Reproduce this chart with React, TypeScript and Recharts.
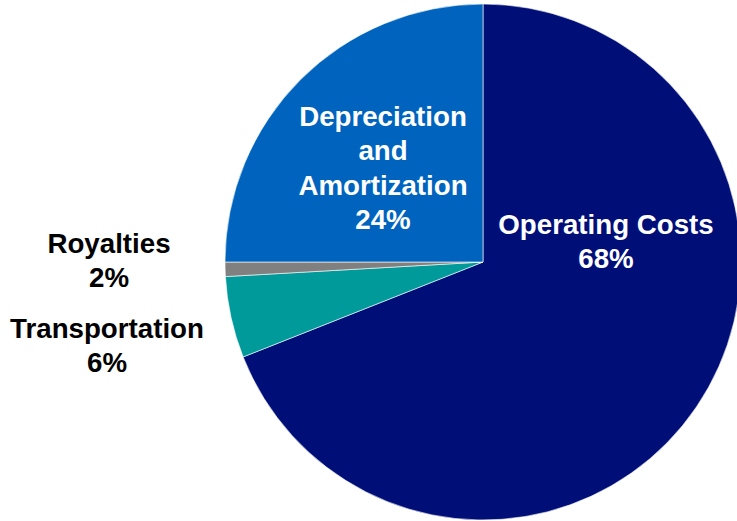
import React from "react";
import { PieChart, Pie, Cell } from "recharts";

// Categories in clockwise order starting at 12 o'clock
const categories = ["Operating Costs", "Transportation", "Royalties", "Depreciation and Amortization"];
// Slice sizes (share of the circle, %)
const sliceValues = [69, 5.1, 0.9, 25];
// Percent labels printed on the chart
const percentLabels = ["68%", "6%", "2%", "24%"];
// Label text lines
const labelLines = [
  ["Operating Costs"],
  ["Transportation"],
  ["Royalties"],
  ["Depreciation", "and", "Amortization"],
];

const colors = ["#000F78", "#009A9A", "#808080", "#0064BE"];
const labelColors = ["#ffffff", "#000000", "#000000", "#ffffff"];

// label anchor offsets relative to pie centre (layout only)
const labelAnchors = [
  { dx: 123, dy: -38 },
  { dx: -376, dy: 66 },
  { dx: -374, dy: -19 },
  { dx: -100, dy: -146 },
];
const LINE_H = 34.5;

const data = categories.map((name, i) => ({ name, value: sliceValues[i], pct: percentLabels[i] }));

const renderLabel = (props: any) => {
  const { cx, cy, index } = props;
  const a = labelAnchors[index];
  const lines = [...labelLines[index], percentLabels[index]];
  const x = cx + a.dx;
  return (
    <text
      key={`lbl-${index}`}
      x={x}
      y={cy + a.dy}
      fill={labelColors[index]}
      textAnchor="middle"
      fontFamily="'Liberation Sans', Arial, sans-serif"
      fontWeight="bold"
      fontSize={27.7}
    >
      {lines.map((l, i) => (
        <tspan key={i} x={x} y={cy + a.dy + i * LINE_H} dominantBaseline="central">
          {l}
        </tspan>
      ))}
    </text>
  );
};

export default function App() {
  return (
    <div style={{ position: "absolute", left: 0, top: 0, width: 737, height: 521, background: "#fff" }}>
      <PieChart width={737} height={521} margin={{ top: 0, right: 0, bottom: 0, left: 0 }}>
        <Pie
          data={data}
          dataKey="value"
          nameKey="name"
          cx={483}
          cy={262}
          outerRadius={258}
          startAngle={90}
          endAngle={-270}
          stroke="#ffffff"
          strokeWidth={0.6}
          label={renderLabel}
          labelLine={false}
          isAnimationActive={false}
        >
          {data.map((d, i) => (
            <Cell key={d.name} fill={colors[i]} />
          ))}
        </Pie>
      </PieChart>
    </div>
  );
}
